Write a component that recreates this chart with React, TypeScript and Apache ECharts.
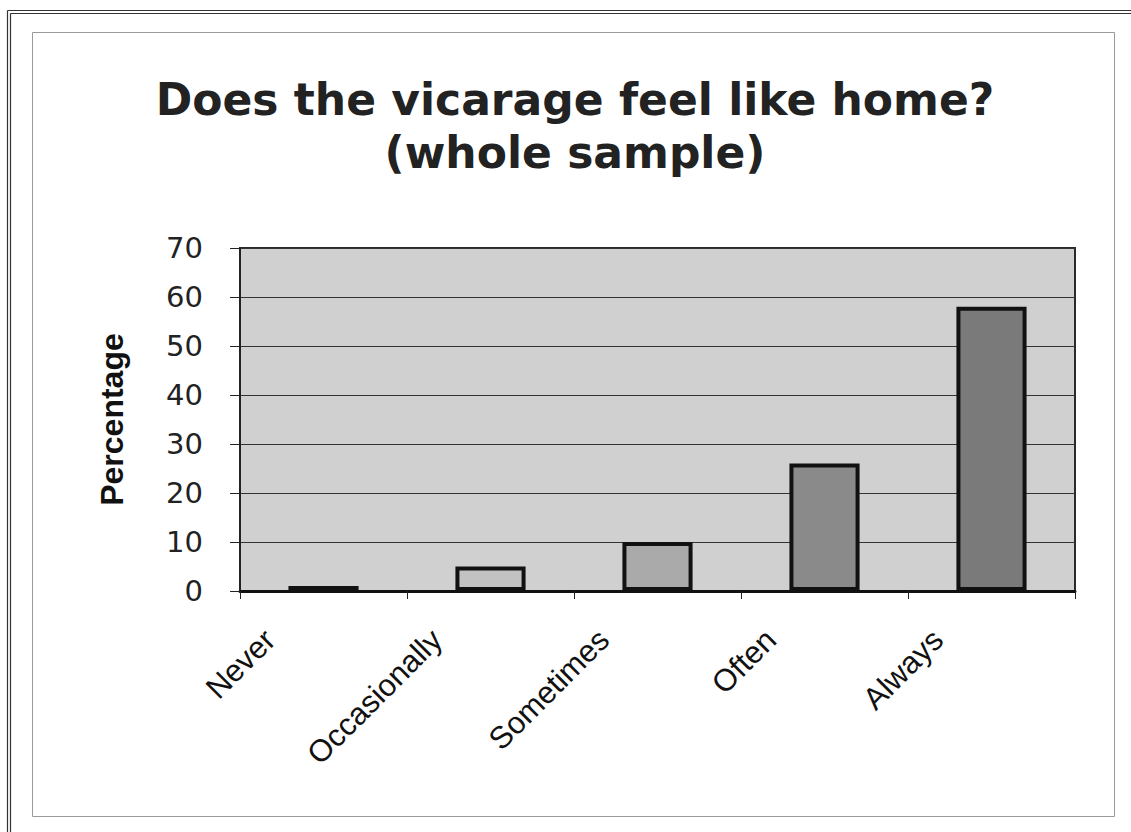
import React, { useEffect, useRef } from "react";
import * as echarts from "echarts";

const categories = ["Never", "Occasionally", "Sometimes", "Often", "Always"];
const percentages = [1, 5, 10, 26, 58];
const barFills = ["#6a6a6a", "#c2c2c2", "#aaaaaa", "#8a8a8a", "#7a7a7a"];
const titleLines = ["Does the vicarage feel like home?", "(whole sample)"];
const yAxisName = "Percentage";

export default function App() {
  const ref = useRef<HTMLDivElement>(null);
  useEffect(() => {
    if (!ref.current) return;
    const chart = echarts.init(ref.current, undefined, { renderer: "svg" });
    chart.setOption({
      animation: false,
      backgroundColor: "#ffffff",
      grid: {
        left: 240,
        right: 56,
        top: 248,
        bottom: 241,
        show: true,
        backgroundColor: "#d0d0d0",
        borderColor: "#2a2a2a",
        borderWidth: 2,
      },
      xAxis: {
        type: "category",
        data: categories,
        axisLine: { show: true, lineStyle: { color: "#111", width: 3 } },
        axisTick: { show: true, length: 8, lineStyle: { color: "#222", width: 1 } },
        axisLabel: {
          rotate: 45,
          margin: -10,
          padding: [0, 76, 0, 0],
          fontFamily: "Liberation Sans, Arial, sans-serif",
          fontSize: 31,
          color: "#111",
          interval: 0,
        },
      },
      yAxis: {
        type: "value",
        min: 0,
        max: 70,
        interval: 10,
        name: yAxisName,
        nameLocation: "middle",
        nameGap: 112,
        nameTextStyle: {
          fontFamily: "Liberation Sans, Arial, sans-serif",
          fontWeight: "bold",
          fontSize: 32,
          color: "#111",
        },
        axisLine: { show: true, lineStyle: { color: "#222", width: 2 } },
        axisTick: { show: true, length: 10, lineStyle: { color: "#222", width: 1 } },
        axisLabel: {
          margin: 37,
          fontFamily: "DejaVu Sans, sans-serif",
          fontSize: 29,
          color: "#222",
        },
        splitLine: { show: true, lineStyle: { color: "#333", width: 1 } },
      },
      graphic: [
        { type: "line", shape: { x1: 7.5, y1: 10.5, x2: 1131, y2: 10.5 }, style: { stroke: "#333", lineWidth: 1.2 } },
        { type: "line", shape: { x1: 10.5, y1: 13.5, x2: 1131, y2: 13.5 }, style: { stroke: "#333", lineWidth: 1.2 } },
        { type: "line", shape: { x1: 7.5, y1: 10.5, x2: 7.5, y2: 832 }, style: { stroke: "#333", lineWidth: 1.2 } },
        { type: "line", shape: { x1: 10.5, y1: 13.5, x2: 10.5, y2: 832 }, style: { stroke: "#333", lineWidth: 1.2 } },
        {
          type: "rect",
          shape: { x: 32.5, y: 32.5, width: 1082, height: 784 },
          style: { fill: "none", stroke: "#9a9a9a", lineWidth: 1 },
        },
        {
          type: "text",
          x: 575,
          y: 77,
          style: {
            text: titleLines[0],
            textAlign: "center",
            textVerticalAlign: "top",
            fontFamily: "DejaVu Sans, sans-serif",
            fontWeight: "bold",
            fontSize: 44,
            fill: "#222",
          },
        },
        {
          type: "text",
          x: 575,
          y: 130,
          style: {
            text: titleLines[1],
            textAlign: "center",
            textVerticalAlign: "top",
            fontFamily: "DejaVu Sans, sans-serif",
            fontWeight: "bold",
            fontSize: 44,
            fill: "#222",
          },
        },
      ],
      series: [
        {
          type: "bar",
          barWidth: "42%",
          data: percentages.map((v, i) => ({
            value: v,
            itemStyle: { color: barFills[i], borderColor: "#111", borderWidth: 4 },
          })),
        },
      ],
    });
    return () => chart.dispose();
  }, []);
  return (
    <div
      ref={ref}
      style={{ position: "fixed", left: 0, top: 0, width: 1131, height: 832 }}
    />
  );
}
